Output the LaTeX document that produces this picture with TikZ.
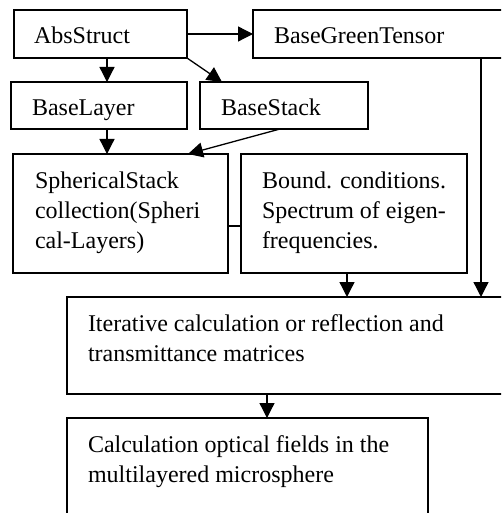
\documentclass[tikz,border=0pt]{standalone}
\usepackage{fontspec}
\setmainfont{Liberation Serif}
\usetikzlibrary{arrows.meta,calc}
\begin{document}
\begin{tikzpicture}[x=1pt,y=-1pt,
  box/.style={draw, line width=1.3pt, inner sep=0pt, outer sep=0pt, anchor=north west},
  txt/.style={inner sep=0pt, outer sep=0pt, anchor=north west, align=left, font=\fontsize{24}{30}\selectfont},
  arr/.style={line width=1.3pt, -{Triangle[length=15pt,width=15pt]}},
  con/.style={line width=1.3pt}]
\useasboundingbox (0,0) rectangle (501,513);
\fill[white] (0,0) rectangle (501,513);
\clip (0,0) rectangle (501,513);
% boxes
\node[box, minimum width=173pt, minimum height=48pt] (abs) at (14,10) {};
\node[box, minimum width=270pt, minimum height=48pt] (green) at (253,10) {};
\node[box, minimum width=176pt, minimum height=47pt] (layer) at (11,82) {};
\node[box, minimum width=168pt, minimum height=47pt] (stack) at (200,82) {};
\node[box, minimum width=215pt, minimum height=119pt] (sph) at (13,154) {};
\node[box, minimum width=226pt, minimum height=119pt] (bound) at (241,154) {};
\node[box, minimum width=455pt, minimum height=97pt] (iter) at (67,297) {};
\node[box, minimum width=361pt, minimum height=125pt] (calc) at (67,418) {};
% texts
\node[txt] (tabs) at ($(abs.north west)+(20,13)$) {\strut AbsStruct};
\node[txt] (tgreen) at ($(green.north west)+(21,13)$) {\strut BaseGreenTensor};
\node[txt] (tlayer) at ($(layer.north west)+(21,13)$) {\strut BaseLayer};
\node[txt] (tstack) at ($(stack.north west)+(21,13)$) {\strut BaseStack};
\node[txt] (tsph) at ($(sph.north west)+(22,13)$) {\strut SphericalStack\\collection(Spheri\\cal-Layers)};
\node[txt] (tbound) at ($(bound.north west)+(21,13)$) {\strut Bound. conditions.\\Spectrum of eigen-\\frequencies.};
\node[txt] (titer) at ($(iter.north west)+(21,13)$) {\strut Iterative calculation or reflection and\\transmittance matrices};
\node[txt] (tcalc) at ($(calc.north west)+(21,13)$) {\strut Calculation optical fields in the\\multilayered microsphere};
% connectors
\draw[arr] (abs.east) -- (green.west);
\draw[arr] ($(abs.south west)+(93,0)$) -- ($(layer.north west)+(96,0)$);
\draw[arr] (abs.south east) -- ($(stack.north west)+(22,0)$);
\draw[arr] ($(layer.south west)+(96,0)$) -- ($(sph.north west)+(94,0)$);
\draw[arr] ($(stack.south west)+(80,0)$) -- ($(sph.north west)+(175,0)$);
\draw[arr] ($(green.south west)+(228,0)$) -- ($(iter.north west)+(414,0)$);
\draw[con] ($(sph.south east)+(0,-47)$) -- ($(bound.south west)+(0,-47)$);
\draw[arr] ($(bound.south west)+(106,0)$) -- ($(iter.north west)+(280,0)$);
\draw[arr] ($(iter.south west)+(200,0)$) -- ($(calc.north west)+(200,0)$);
\end{tikzpicture}
\end{document}
